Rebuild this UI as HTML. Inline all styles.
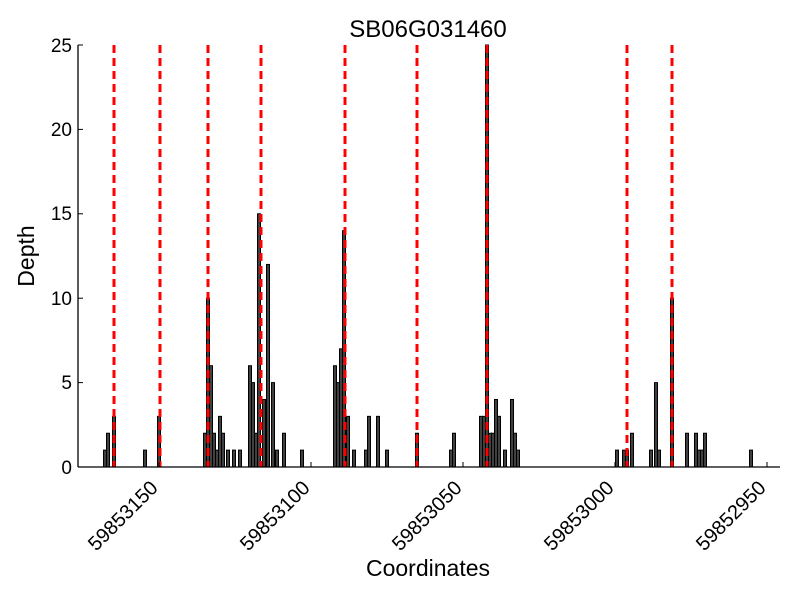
<!DOCTYPE html>
<html><head><style>body{margin:0;background:#fff}svg{display:block}text{font-family:"Liberation Sans",sans-serif}</style></head>
<body>
<svg width="800" height="600" viewBox="0 0 800 600" xmlns="http://www.w3.org/2000/svg">
<rect width="800" height="600" fill="#fff"/>
<g id="bars" fill="#404040" stroke="#000" stroke-width="1"></g>
<g id="red" stroke="#ff0000" stroke-width="3" stroke-dasharray="8,5"></g>
<g stroke="#000" stroke-width="1.3" fill="none">
<line x1="78" y1="45" x2="78" y2="467"/>
<line x1="78" y1="467" x2="780" y2="467"/>
</g>
<g id="ticks" stroke="#000" stroke-width="1"></g>
<g font-size="19" text-anchor="end" fill="#000">
<text x="72" y="474">0</text>
<text x="72" y="389">5</text>
<text x="72" y="305">10</text>
<text x="72" y="220">15</text>
<text x="72" y="136">20</text>
<text x="72" y="52">25</text>
</g>
<g font-size="20" text-anchor="end" fill="#000">
<text transform="translate(159,489) rotate(-45)">59853150</text>
<text transform="translate(311,489) rotate(-45)">59853100</text>
<text transform="translate(463,489) rotate(-45)">59853050</text>
<text transform="translate(615,489) rotate(-45)">59853000</text>
<text transform="translate(767,489) rotate(-45)">59852950</text>
</g>
<text x="428" y="576" font-size="23" text-anchor="middle">Coordinates</text>
<text transform="translate(34,256) rotate(-90)" font-size="23" text-anchor="middle">Depth</text>
<text x="428" y="37" font-size="24" text-anchor="middle">SB06G031460</text>
<script>
var b=[[105,1],[108,2],[114,3],[145,1],[159,3],[205,2],[208,10],[211,6],[214,2],[217,1],[220,3],[223,2],[228,1],[234,1],[240,1],[250,6],[253,5],[256,2],[259,15],[264,4],[268,12],[273,5],[277,1],[284,2],[302,1],
[335,6],[338,5],[341,7],[344,14],[348,3],[354,1],[366,1],[369,3],[378,3],[387,1],[417,2],[451,1],[454,2],[481,3],[484,3],[487,25],[490,2],[493,2],[496,4],[499,3],[505,1],[512,4],[515,2],[518,1],
[617,1],[624,1],[627,1],[632,2],[651,1],[656,5],[659,1],[672,10],[687,2],[696,2],[699,1],[702,1],[705,2],[751,1]];
var ns="http://www.w3.org/2000/svg",g=document.getElementById('bars');
b.forEach(function(d){var r=document.createElementNS(ns,'rect');var h=d[1]*16.88;r.setAttribute('x',d[0]-1.5);r.setAttribute('y',467-h);r.setAttribute('width',3);r.setAttribute('height',h);g.appendChild(r);});
var rg=document.getElementById('red');
[114,160,208,261,345,417,487,627,672].forEach(function(x){var l=document.createElementNS(ns,'line');l.setAttribute('x1',x);l.setAttribute('x2',x);l.setAttribute('y1',45);l.setAttribute('y2',467);rg.appendChild(l);});
var tg=document.getElementById('ticks');
[159,311,463,615,767].forEach(function(x){var l=document.createElementNS(ns,'line');l.setAttribute('x1',x);l.setAttribute('x2',x);l.setAttribute('y1',467);l.setAttribute('y2',462);tg.appendChild(l);});
[467,382.6,298.2,213.8,129.4,45].forEach(function(y){var l=document.createElementNS(ns,'line');l.setAttribute('x1',78);l.setAttribute('x2',83);l.setAttribute('y1',y);l.setAttribute('y2',y);tg.appendChild(l);});
</script>
</svg>
</body></html>
